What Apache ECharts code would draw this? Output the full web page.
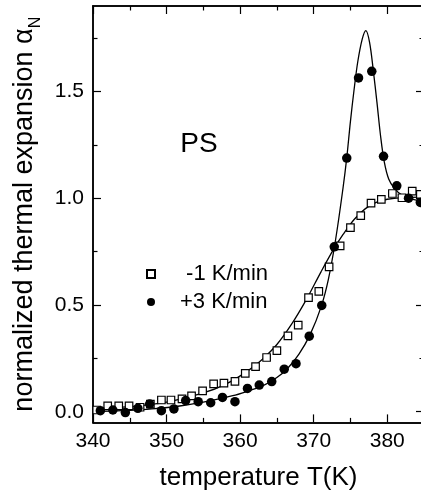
<!DOCTYPE html>
<html><head><meta charset="utf-8">
<script src="https://cdn.jsdelivr.net/npm/echarts@6/dist/echarts.min.js"></script>
<style>html,body{margin:0;padding:0;background:#fff}#c{width:421px;height:493px}</style>
</head><body><div id="c"></div>
<script>
// tick values
const xTickLabels = [340, 350, 360, 370, 380];
const xMinorTicks = [345, 355, 365, 375, 385];
const yTickLabels = [0, 0.5, 1.0, 1.5];
const yMinorTicks = [0.25, 0.75, 1.25, 1.75];

// -1 K/min (open squares)
const coolT = [340.5,342.0,343.5,344.9,346.4,347.8,349.3,350.6,352.1,353.4,354.9,356.4,357.8,359.3,360.7,362.1,363.6,365.0,366.5,367.9,369.3,370.7,372.1,373.6,375.0,376.4,377.8,379.2,380.7,382.0,383.4,384.5];
const coolA = [0.008,0.027,0.027,0.027,0.021,0.036,0.055,0.055,0.060,0.074,0.098,0.130,0.134,0.142,0.180,0.211,0.254,0.286,0.355,0.406,0.534,0.564,0.678,0.777,0.862,0.918,0.977,0.994,1.022,1.002,1.033,1.018];

// +3 K/min (filled circles)
const heatT = [341.0,342.7,344.4,346.1,347.7,349.3,351.0,352.6,354.3,356.0,357.6,359.3,361.0,362.6,364.3,366.0,367.6,369.4,371.1,372.8,374.5,376.1,377.9,379.5,381.3,382.9,384.5];
const heatA = [0.005,0.008,-0.004,0.016,0.036,0.005,0.013,0.052,0.047,0.042,0.067,0.047,0.109,0.125,0.141,0.199,0.225,0.354,0.498,0.772,1.188,1.563,1.594,1.196,1.058,1.000,0.980];

// fitted curve for -1 K/min
const fitCoolT = [340,345,350,355,358,361,363,365,367,369,371,372.7,374,375.5,377,378.5,380,382,385];
const fitCoolA = [0.015,0.024,0.045,0.088,0.128,0.190,0.245,0.315,0.410,0.525,0.655,0.760,0.830,0.900,0.950,0.980,0.995,1.003,1.005];

// fitted curve for +3 K/min
const fitHeatT = [340,344,348,352,356,359,361,363,365,366.5,368,369.5,371,372,373,374,374.5,375,375.5,376,376.6,377.1,377.6,378.1,378.6,379.1,379.6,380.2,381,382,383.5,385];
const fitHeatA = [0.000,0.005,0.013,0.028,0.052,0.075,0.096,0.120,0.160,0.205,0.270,0.360,0.490,0.620,0.810,1.050,1.190,1.360,1.510,1.640,1.745,1.785,1.730,1.600,1.450,1.290,1.170,1.090,1.045,1.015,0.995,0.985];

const FONT = '"Liberation Sans", Arial, sans-serif';
const zip = (a, b) => a.map((v, i) => [v, b[i]]);
const axisLineStyle = { color: '#000', width: 1.5 };

function xAx(pos, ticks, len, main) {
  return {
    type: 'value', position: pos, min: 340, max: 385,
    axisLine: { show: true, onZero: false, lineStyle: axisLineStyle },
    axisTick: { show: true, inside: true, length: len, customValues: ticks, lineStyle: { color: '#000', width: 1.2 } },
    axisLabel: main ? { show: true, customValues: xTickLabels, fontSize: 21, color: '#000', fontFamily: FONT, margin: 8 } : { show: false },
    splitLine: { show: false },
    name: main ? 'temperature T(K)' : '',
    nameLocation: 'middle', nameGap: 42,
    nameTextStyle: { fontSize: 26, color: '#000', fontFamily: FONT }
  };
}
function yAx(pos, ticks, len, main) {
  return {
    type: 'value', position: pos, min: -0.05, max: 1.9,
    axisLine: { show: true, onZero: false, lineStyle: axisLineStyle },
    axisTick: { show: true, inside: true, length: len, customValues: ticks, lineStyle: { color: '#000', width: 1.2 } },
    axisLabel: main ? { show: true, customValues: yTickLabels, fontSize: 21, color: '#000', fontFamily: FONT, margin: 9, formatter: v => v.toFixed(1) } : { show: false },
    splitLine: { show: false },
    name: main ? 'normalized thermal expansion α{sub|N}' : '',
    nameLocation: 'middle', nameGap: 40, nameRotate: 90,
    nameTextStyle: { fontSize: 27, color: '#000', fontFamily: FONT,
      rich: { sub: { fontSize: 16, color: '#000', fontFamily: FONT, padding: [22, 0, 0, 0] } } }
  };
}

const chart = echarts.init(document.getElementById('c'), null, { renderer: 'canvas' });
chart.setOption({
  animation: false,
  backgroundColor: '#fff',
  grid: { left: 93, top: 6, width: 331, height: 416.4, containLabel: false, outerBoundsMode: 'none' },
  xAxis: [
    xAx('bottom', xTickLabels, 8, true),
    xAx('top', xTickLabels, 8, false),
    xAx('bottom', xMinorTicks, 4.5, false),
    xAx('top', xMinorTicks, 4.5, false)
  ],
  yAxis: [
    yAx('left', yTickLabels, 8, true),
    yAx('right', yTickLabels, 8, false),
    yAx('left', yMinorTicks, 4.5, false),
    yAx('right', yMinorTicks, 4.5, false)
  ],
  legend: {
    orient: 'vertical', left: 141, top: 258, itemWidth: 8, itemHeight: 8, itemGap: 6,
    data: [' -1 K/min', '+3 K/min'],
    textStyle: { fontSize: 22, color: '#000', fontFamily: FONT, lineHeight: 22, padding: [0, 0, 0, 20] }
  },
  graphic: [{
    type: 'text', x: 199, y: 144,
    style: { text: 'PS', fill: '#000', font: '28px ' + FONT, align: 'center', verticalAlign: 'middle' }
  }],
  series: [
    { name: 'fit -1', type: 'line', data: zip(fitCoolT, fitCoolA), showSymbol: false, smooth: 0.35,
      lineStyle: { color: '#000', width: 1.3 }, z: 2 },
    { name: 'fit +3', type: 'line', data: zip(fitHeatT, fitHeatA), showSymbol: false, smooth: 0.35,
      lineStyle: { color: '#000', width: 1.3 }, z: 2 },
    { name: ' -1 K/min', type: 'scatter', data: zip(coolT, coolA), symbol: 'rect', symbolSize: 7.5,
      itemStyle: { color: '#fff', borderColor: '#000', borderWidth: 1.2, opacity: 1 }, z: 3 },
    { name: '+3 K/min', type: 'scatter', data: zip(heatT, heatA), symbol: 'circle', symbolSize: 9.5,
      itemStyle: { color: '#000', opacity: 1 }, z: 4 }
  ]
});
</script>
</body></html>
